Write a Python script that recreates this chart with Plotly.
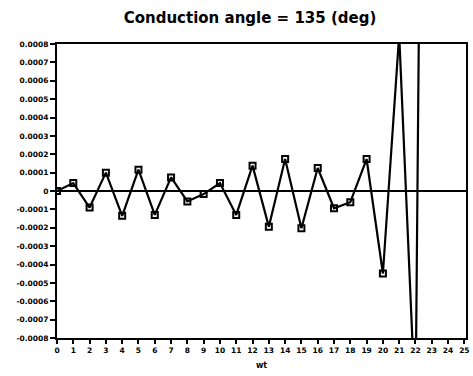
import plotly.graph_objects as go

wt = list(range(0, 24))
values = [0.0, 0.000043, -0.00009, 0.0001, -0.000135, 0.000116, -0.00013, 0.000074,
          -0.000057, -0.000017, 0.000043, -0.00013, 0.000138, -0.000194, 0.000174,
          -0.000203, 0.000125, -0.000094, -0.000061, 0.000174, -0.000449,
          0.00085, -0.0012, 0.0088]

x_ticks = list(range(0, 26))
y_tickvals = [i * 0.0001 for i in range(-8, 9)]
y_ticktext = ["-0.0008", "-0.0007", "-0.0006", "-0.0005", "-0.0004", "-0.0003", "-0.0002",
              "-0.0001", "0", "0.0001", "0.0002", "0.0003", "0.0004", "0.0005", "0.0006",
              "0.0007", "0.0008"]

fig = go.Figure()
fig.add_trace(go.Scatter(
    x=wt, y=values, mode="lines+markers",
    line=dict(color="black", width=2.2),
    marker=dict(symbol="square-open", size=6, color="black", line=dict(width=2, color="black")),
    showlegend=False,
))

tickfont = dict(family="DejaVu Sans", size=7.5, color="black", weight="bold")

fig.update_layout(
    width=473, height=376,
    margin=dict(l=57, r=3, t=44, b=38),
    paper_bgcolor="white", plot_bgcolor="white",
    title=dict(text="Conduction angle = 135 (deg)", x=250/473, xref="container", xanchor="center",
               y=1 - 18/376, yref="container", yanchor="middle",
               font=dict(family="DejaVu Sans", size=15, color="black", weight="bold")),
    xaxis=dict(
        range=[0, 25.1], tickvals=x_ticks, ticktext=[str(v) for v in x_ticks],
        showgrid=False, zeroline=False, showline=True, linecolor="black", linewidth=2,
        mirror=True, ticks="outside", ticklen=4, tickwidth=1.5, tickcolor="black",
        tickfont=tickfont, tickangle=0,
        title=dict(text="wt", font=dict(family="DejaVu Sans", size=8, color="black", weight="bold"), standoff=8),
    ),
    yaxis=dict(
        range=[-0.0008, 0.0008], tickvals=y_tickvals, ticktext=y_ticktext,
        showgrid=False, zeroline=True, zerolinecolor="black", zerolinewidth=2,
        showline=True, linecolor="black", linewidth=2, mirror=True,
        ticks="outside", ticklen=5, tickwidth=1.5, tickcolor="black",
        tickfont=tickfont,
    ),
)

fig.write_html("out.html")
